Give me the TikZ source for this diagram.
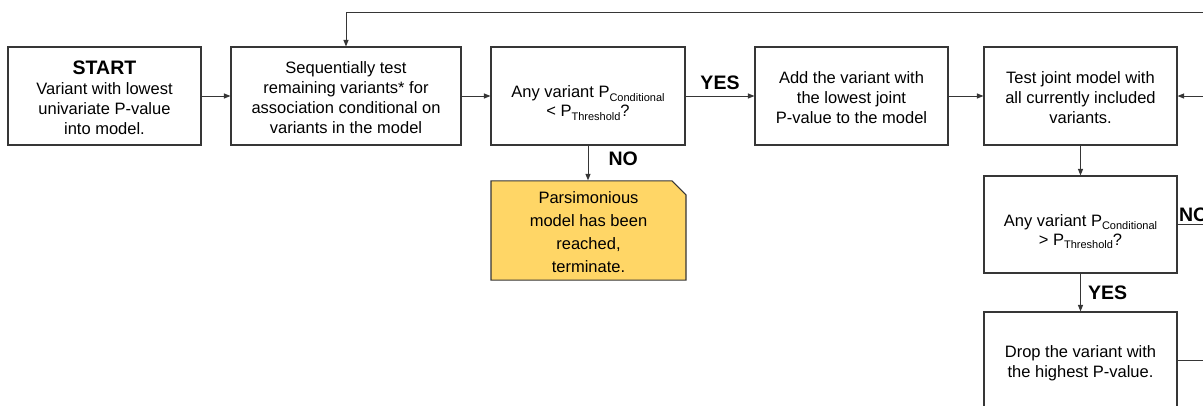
\documentclass[tikz,border=0pt]{standalone}
\usepackage{fontspec}
\setmainfont{Liberation Sans}
\usetikzlibrary{arrows.meta,shapes.misc}
\newcommand{\subtxt}[1]{\raisebox{-0.2em}{\fontsize{11}{11}\selectfont #1}}
\newcommand{\topstrut}{\rule{0pt}{15.5pt}}
\newcommand{\decstrut}{\rule{0pt}{26pt}}
\definecolor{edge}{HTML}{363636}
\definecolor{termfill}{HTML}{FFD666}
\tikzset{
  box/.style={draw=edge, line width=1.1pt, rectangle, inner sep=0pt, align=center,
    minimum width=193pt, minimum height=98pt, font=\fontsize{16.5}{20}\selectfont},
  dec/.style={box, font=\fontsize{16.5}{19}\selectfont},
  term/.style={draw=edge, fill=termfill, line width=1.1pt, chamfered rectangle,
    chamfered rectangle corners=north east, chamfered rectangle xsep=7pt, chamfered rectangle ysep=7pt,
    inner sep=0pt, align=center, minimum width=195pt, minimum height=95pt,
    font=\fontsize{16.5}{23}\selectfont},
  arr/.style={draw=edge, line width=1pt, -{Triangle[length=6.5pt,width=5pt]}},
  ln/.style={draw=edge, line width=1pt},
  lbl/.style={font=\bfseries\fontsize{19.5}{22}\selectfont, inner sep=0pt}
}
\begin{document}
\begin{tikzpicture}[x=1pt,y=-1pt]
\useasboundingbox (0,0) rectangle (1203,405);
\clip (0,0) rectangle (1203,405);
\node[box] (b1) at (104.5,96) {\rule{0pt}{17pt}{\bfseries\fontsize{19.5}{20}\selectfont START}\\Variant with lowest\\univariate P-value\\into model.};
\node[box, minimum width=230pt] (b2) at (346,96) {\topstrut Sequentially test\\remaining variants* for\\association conditional on\\variants in the model};
\node[dec, minimum width=194pt] (b3) at (588,96) {\decstrut Any variant P\subtxt{Conditional}\\{<} P\subtxt{Threshold}?};
\node[box] (b4) at (851.5,96) {\topstrut Add the variant with\\the lowest joint\\P-value to the model};
\node[box] (b5) at (1080.5,96) {\topstrut Test joint model with\\all currently included\\variants.};
\node[dec, minimum height=97pt] (b6) at (1080.5,224.5) {\decstrut Any variant P\subtxt{Conditional}\\{>} P\subtxt{Threshold}?};
\node[box] (b7) at (1080.5,361) {\rule{0pt}{17pt}Drop the variant with\\the highest P-value.};
\node[term] (t) at (588.5,230.5) {\rule{0pt}{16pt}Parsimonious\\model has been\\reached,\\terminate.};
\coordinate (r5) at (1203,96);
\coordinate (r6) at (1203,224.5);
\coordinate (r7) at (1203,360);
\coordinate (loopR) at (1203,12);
\draw[arr] (b1) -- (b2);
\draw[arr] (b2) -- (b3);
\draw[arr] (b3) -- node[lbl, above=6pt] {YES} (b4);
\draw[arr] (b4) -- (b5);
\draw[arr] (b3.south) -- node[lbl, pos=0.38, right=20pt] {NO} (b3.south |- t.north);
\draw[arr] (b5) -- (b6);
\draw[arr] (b6) -- node[lbl, pos=0.5, right=7pt] {YES} (b7);
\draw[arr] (r5) -- (b5.east);
\draw[ln] (b6.east) -- node[lbl, pos=0, anchor=south west, xshift=1pt, yshift=2pt] {NO} (r6);
\draw[ln] (b7.east |- r7) -- (r7);
\draw[arr] (loopR) -- (b2.north |- loopR) -- (b2.north);
\end{tikzpicture}
\end{document}
